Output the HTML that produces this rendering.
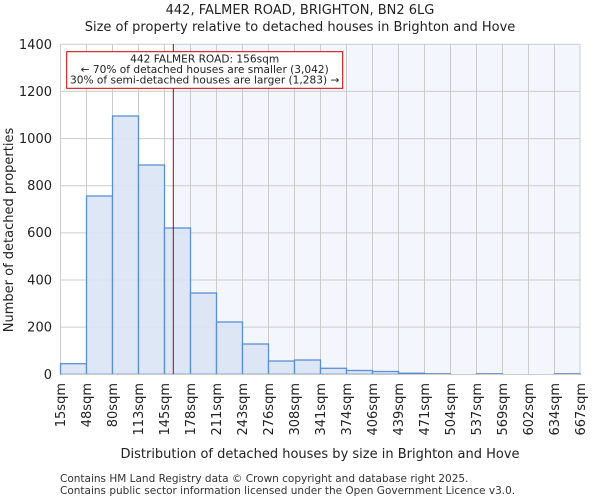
<!DOCTYPE html>
<html><head><meta charset="utf-8"><style>body{margin:0;background:#fff}svg{display:block;font-family:"DejaVu Sans","Liberation Sans",sans-serif}</style></head><body>
<svg width="600" height="500" viewBox="0 0 600 500">
<rect x="173.3" y="44.3" width="406.7" height="330" fill="#f3f6fd"/>
<g stroke="#cccccc" stroke-width="1">
<line x1="60.5" y1="44.3" x2="580" y2="44.3"/><line x1="60.5" y1="91.4" x2="580" y2="91.4"/><line x1="60.5" y1="138.6" x2="580" y2="138.6"/><line x1="60.5" y1="185.7" x2="580" y2="185.7"/><line x1="60.5" y1="232.9" x2="580" y2="232.9"/><line x1="60.5" y1="280" x2="580" y2="280"/><line x1="60.5" y1="327.1" x2="580" y2="327.1"/>
<line x1="60.5" y1="44" x2="60.5" y2="374"/><line x1="86.5" y1="44" x2="86.5" y2="374"/><line x1="112.5" y1="44" x2="112.5" y2="374"/><line x1="138.5" y1="44" x2="138.5" y2="374"/><line x1="164.5" y1="44" x2="164.5" y2="374"/><line x1="190.5" y1="44" x2="190.5" y2="374"/><line x1="216.5" y1="44" x2="216.5" y2="374"/><line x1="242.5" y1="44" x2="242.5" y2="374"/><line x1="268.5" y1="44" x2="268.5" y2="374"/><line x1="294.5" y1="44" x2="294.5" y2="374"/><line x1="320.5" y1="44" x2="320.5" y2="374"/><line x1="346.5" y1="44" x2="346.5" y2="374"/><line x1="372.5" y1="44" x2="372.5" y2="374"/><line x1="398.5" y1="44" x2="398.5" y2="374"/><line x1="424.5" y1="44" x2="424.5" y2="374"/><line x1="450.5" y1="44" x2="450.5" y2="374"/><line x1="476.5" y1="44" x2="476.5" y2="374"/><line x1="502.5" y1="44" x2="502.5" y2="374"/><line x1="528.5" y1="44" x2="528.5" y2="374"/><line x1="554.5" y1="44" x2="554.5" y2="374"/><line x1="580" y1="44" x2="580" y2="374"/>
</g>
<g fill="#dae4f4" fill-opacity="0.9" stroke="#5b8fd6" stroke-width="1.3">
<rect x="60.5" y="363.7" width="26" height="10.6"/>
<rect x="86.5" y="196" width="26" height="178.3"/>
<rect x="112.5" y="116" width="26" height="258.3"/>
<rect x="138.5" y="165" width="26" height="209.3"/>
<rect x="164.5" y="228" width="26" height="146.3"/>
<rect x="190.5" y="293" width="26" height="81.3"/>
<rect x="216.5" y="322" width="26" height="52.3"/>
<rect x="242.5" y="344" width="26" height="30.3"/>
<rect x="268.5" y="361" width="26" height="13.3"/>
<rect x="294.5" y="360" width="26" height="14.3"/>
<rect x="320.5" y="368.3" width="26" height="6"/>
<rect x="346.5" y="370.5" width="26" height="3.8"/>
<rect x="372.5" y="371.5" width="26" height="2.8"/>
<rect x="398.5" y="373.2" width="26" height="1.1"/>
<rect x="424.5" y="373.8" width="26" height="0.5"/>
<rect x="476.5" y="373.8" width="26" height="0.5"/>
<rect x="554.5" y="373.8" width="25.5" height="0.5"/>
</g>
<line x1="60.5" y1="374.5" x2="580" y2="374.5" stroke="#ccc"/>
<line x1="173.3" y1="44" x2="173.3" y2="374" stroke="#b00000" stroke-width="1"/>
<rect x="66.7" y="51.7" width="276" height="36.6" fill="#fff" stroke="#cc0000" stroke-width="1"/>
<g font-size="10.6" fill="#222" text-anchor="middle">
<text x="204.7" y="62.5">442 FALMER ROAD: 156sqm</text>
<text x="204.7" y="73">← 70% of detached houses are smaller (3,042)</text>
<text x="204.7" y="83.5">30% of semi-detached houses are larger (1,283) →</text>
</g>
<g font-size="13" fill="#222" text-anchor="end">
<text x="52" y="49">1400</text><text x="52" y="96">1200</text><text x="52" y="143">1000</text><text x="52" y="190">800</text><text x="52" y="237">600</text><text x="52" y="284.5">400</text><text x="52" y="331.5">200</text><text x="52" y="379">0</text>
</g>
<g font-size="13" fill="#222" text-anchor="end">
<text transform="translate(65,383) rotate(-90)">15sqm</text>
<text transform="translate(91,383) rotate(-90)">48sqm</text>
<text transform="translate(117,383) rotate(-90)">80sqm</text>
<text transform="translate(143,383) rotate(-90)">113sqm</text>
<text transform="translate(169,383) rotate(-90)">145sqm</text>
<text transform="translate(195,383) rotate(-90)">178sqm</text>
<text transform="translate(221,383) rotate(-90)">211sqm</text>
<text transform="translate(247,383) rotate(-90)">243sqm</text>
<text transform="translate(273,383) rotate(-90)">276sqm</text>
<text transform="translate(299,383) rotate(-90)">308sqm</text>
<text transform="translate(325,383) rotate(-90)">341sqm</text>
<text transform="translate(351,383) rotate(-90)">374sqm</text>
<text transform="translate(377,383) rotate(-90)">406sqm</text>
<text transform="translate(403,383) rotate(-90)">439sqm</text>
<text transform="translate(429,383) rotate(-90)">471sqm</text>
<text transform="translate(455,383) rotate(-90)">504sqm</text>
<text transform="translate(481,383) rotate(-90)">537sqm</text>
<text transform="translate(507,383) rotate(-90)">569sqm</text>
<text transform="translate(533,383) rotate(-90)">602sqm</text>
<text transform="translate(559,383) rotate(-90)">634sqm</text>
<text transform="translate(585,383) rotate(-90)">667sqm</text>
</g>
<g font-size="13" fill="#222" text-anchor="middle">
<text x="300" y="14">442, FALMER ROAD, BRIGHTON, BN2 6LG</text>
<text x="300" y="31">Size of property relative to detached houses in Brighton and Hove</text>
<text x="320" y="458">Distribution of detached houses by size in Brighton and Hove</text>
<text transform="translate(13,230) rotate(-90)">Number of detached properties</text>
</g>
<g font-size="10.5" fill="#333">
<text x="60" y="482">Contains HM Land Registry data © Crown copyright and database right 2025.</text>
<text x="60" y="494">Contains public sector information licensed under the Open Government Licence v3.0.</text>
</g>
</svg>
</body></html>
